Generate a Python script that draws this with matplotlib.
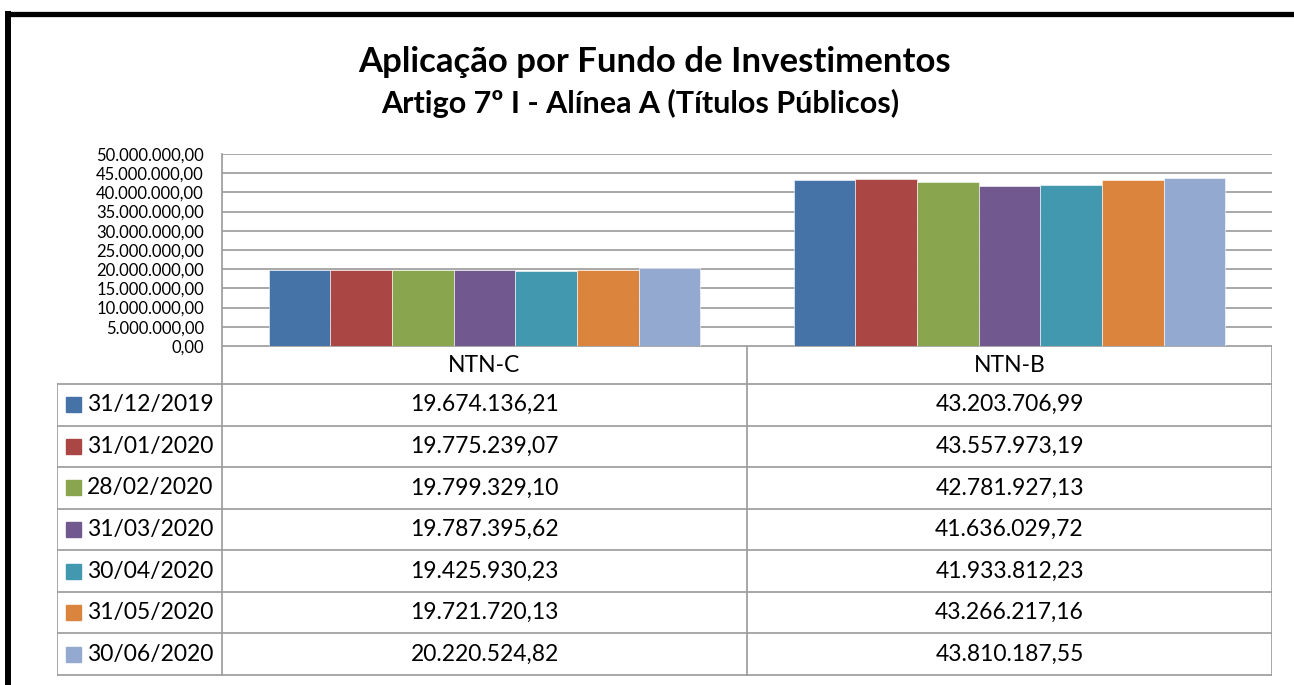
import numpy as np
import matplotlib.pyplot as plt
from matplotlib.lines import Line2D

plt.rcParams['font.family'] = ['Lato', 'DejaVu Sans']

titulo = 'Aplicação por Fundo de Investimentos'
subtitulo = 'Artigo 7º I - Alínea A (Títulos Públicos)'
ativos = ['NTN-C', 'NTN-B']
datas = ['31/12/2019', '31/01/2020', '28/02/2020', '31/03/2020',
         '30/04/2020', '31/05/2020', '30/06/2020']
ntn_c = [19674136.21, 19775239.07, 19799329.10, 19787395.62,
         19425930.23, 19721720.13, 20220524.82]
ntn_b = [43203706.99, 43557973.19, 42781927.13, 41636029.72,
         41933812.23, 43266217.16, 43810187.55]
cores = ['#4572A7', '#AA4643', '#89A54E', '#71588F', '#4198AF', '#DB843D', '#93A9CF']

W, H = 1294, 685
fig = plt.figure(figsize=(W / 100, H / 100), dpi=100)

def px(x0, y0, x1, y1):
    # caixa em pixels (origem no topo) -> coordenadas da figura
    return [x0 / W, 1 - y1 / H, (x1 - x0) / W, (y1 - y0) / H]

def fmt(v):
    s = f'{v:,.2f}'
    return s.replace(',', 'X').replace('.', ',').replace('X', '.')

cinza = '#9a9a9a'

# moldura preta
fig.add_artist(Line2D([8 / W, 8 / W], [0, 1 - 11 / H], color='black', lw=4.3,
                      transform=fig.transFigure, solid_capstyle='butt'))
fig.add_artist(Line2D([5 / W, 1], [1 - 13.5 / H, 1 - 13.5 / H], color='black', lw=3.8,
                      transform=fig.transFigure, solid_capstyle='butt'))

fig.text(655 / W, 1 - 62 / H, titulo, ha='center', va='center', fontsize=25, fontweight='bold')
fig.text(640 / W, 1 - 103 / H, subtitulo, ha='center', va='center', fontsize=22, fontweight='bold')

# grafico de barras
ax = fig.add_axes(px(222, 154, 1272, 346))
series = np.array([ntn_c, ntn_b]).T
w = 0.1175
x = np.arange(len(ativos)) + 0.5
for i, (d, c) in enumerate(zip(datas, cores)):
    ax.bar(x + (i - 3) * w, series[i], width=w, color=c, edgecolor='white', linewidth=0.4, zorder=3)
ax.set_xlim(0, 2)
ax.set_ylim(0, 50000000)
ticks = np.arange(0, 50000001, 5000000)
ax.set_yticks(ticks)
ax.set_yticklabels([fmt(t) for t in ticks], fontsize=12)
ax.tick_params(axis='y', length=0, pad=13)
ax.set_xticks([])
ax.grid(axis='y', color=cinza, lw=1.2, zorder=0)
for s in ['top', 'right', 'bottom']:
    ax.spines[s].set_visible(False)
ax.spines['left'].set_color(cinza)
ax.spines['left'].set_linewidth(1.2)

# tabela de dados
tb = fig.add_axes(px(57, 346, 1272, 676))
tb.set_xlim(57, 1272)
tb.set_ylim(676, 346)
tb.axis('off')
topo = 384
alt = (675 - topo) / len(datas)
linhas = [topo + k * alt for k in range(len(datas) + 1)]
kw = dict(color=cinza, lw=1.2)
tb.plot([222, 1272], [346, 346], **kw)
for y in linhas:
    tb.plot([57, 1272], [y, y], **kw)
tb.plot([57, 57], [topo, 675], **kw)
tb.plot([222, 222], [346, 675], **kw)
tb.plot([747, 747], [346, 675], **kw)
tb.plot([1272, 1272], [346, 675], **kw)
for j, a in enumerate(ativos):
    tb.text(484.5 + j * 525, 365, a, ha='center', va='center', fontsize=16.5)
for i, d in enumerate(datas):
    yc = topo + (i + 0.5) * alt
    tb.add_patch(plt.Rectangle((66, yc - 7.5), 15, 15, color=cores[i]))
    tb.text(87, yc, d, ha='left', va='center', fontsize=16.5)
    tb.text(484.5, yc, fmt(ntn_c[i]), ha='center', va='center', fontsize=16.5)
    tb.text(1009.5, yc, fmt(ntn_b[i]), ha='center', va='center', fontsize=16.5)

fig.savefig('out.png', dpi=100, facecolor='white')
